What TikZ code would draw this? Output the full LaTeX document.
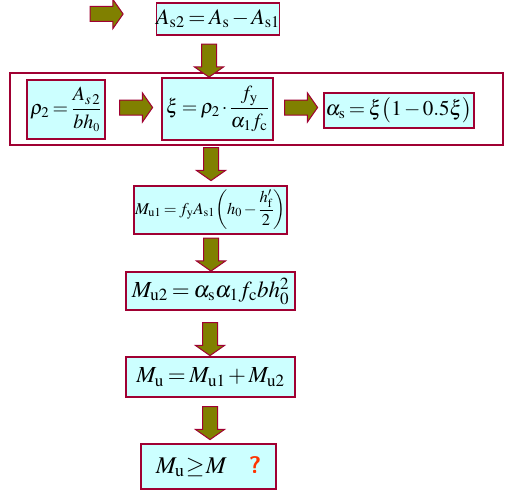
\documentclass[tikz,border=0pt]{standalone}
\usepackage{mathptmx}
\usepackage{amsmath}
\usetikzlibrary{shapes.arrows}
\definecolor{boxline}{RGB}{160,0,50}
\definecolor{boxfill}{RGB}{204,255,255}
\definecolor{olivearrow}{RGB}{128,128,0}
\definecolor{qred}{RGB}{255,51,0}
\thickmuskip=3mu plus 1mu
\medmuskip=2mu plus 1mu
\begin{document}
\begin{tikzpicture}[x=1pt, y=-1pt,
  formbox/.style={draw=boxline, line width=1.2pt, fill=boxfill, inner sep=0pt, minimum width=#1},
  blockarrow/.style={single arrow, draw=boxline, line width=1pt, fill=olivearrow, inner xsep=0pt, inner ysep=7pt,
    minimum height=33pt, single arrow head extend=7pt, single arrow tip angle=110},
  downarrow/.style={blockarrow, rotate=-90}]
\useasboundingbox (0,0) rectangle (510,495);
% outer frame of the second step
\node[draw=boxline, line width=1.2pt, minimum width=493pt, minimum height=72pt] (group) at (256.5,109) {};
\node[blockarrow] (start) at (104,14) {};
\node[formbox=118pt, minimum height=32pt] (as2) at (218,19) {\fontsize{22}{26}\selectfont $A_{\mathrm{s2}}=A_{\mathrm{s}}-A_{\mathrm{s1}}$};
\node[downarrow] (d1) at (209,58) {};
\node[formbox=78pt, minimum height=59pt] (rho) at (66,109.5) {\fontsize{20}{24}\selectfont $\rho_2=\dfrac{A_{s\,2}}{bh_{\scriptscriptstyle 0}}$};
\node[blockarrow] (r1) at (133.5,107.5) {};
\node[formbox=111pt, minimum height=62pt] (xi) at (217.5,109) {\fontsize{20}{24}\selectfont $\xi=\rho_2\cdot\dfrac{f_{\mathrm{y}}}{\alpha_1 f_{\mathrm{c}}}$};
\node[blockarrow] (r2) at (298.5,107.5) {};
\node[formbox=150pt, minimum height=35pt] (alpha) at (399,110.5) {\fontsize{21}{25}\selectfont $\alpha_{\mathrm{s}}=\xi\bigl(1-0.5\xi\bigr)$};
\node[downarrow] (d2) at (211,161.5) {};
\node[formbox=153pt, minimum height=48pt] (mu1) at (210.5,210) {\fontsize{16.5}{20}\selectfont $M_{\mathrm{u1}}=f_{\mathrm{y}}A_{\mathrm{s1}}\!\left(h_0-\dfrac{h'_{\mathrm{f}}}{2}\right)$};
\node[downarrow] (d3) at (211,252) {};
\node[formbox=169pt, minimum height=38pt] (mu2) at (210.5,291) {\fontsize{23}{27}\selectfont $M_{\mathrm{u2}}=\alpha_{\mathrm{s}}\alpha_1 f_{\mathrm{c}}bh_0^2$};
\node[downarrow] (d4) at (210,336.5) {};
\node[formbox=169pt, minimum height=40pt] (mu) at (210.5,377) {\fontsize{23}{27}\selectfont $M_{\mathrm{u}}=M_{\mathrm{u1}}+M_{\mathrm{u2}}$};
\node[downarrow] (d5) at (210,420.5) {};
\node[formbox=135pt, minimum height=45pt] (check) at (208.5,466.5) {\fontsize{24}{28}\selectfont $M_{\mathrm{u}}\!\geq\! M$\hspace{22pt}{\color{qred}\sffamily\bfseries ?}};
\end{tikzpicture}
\end{document}
